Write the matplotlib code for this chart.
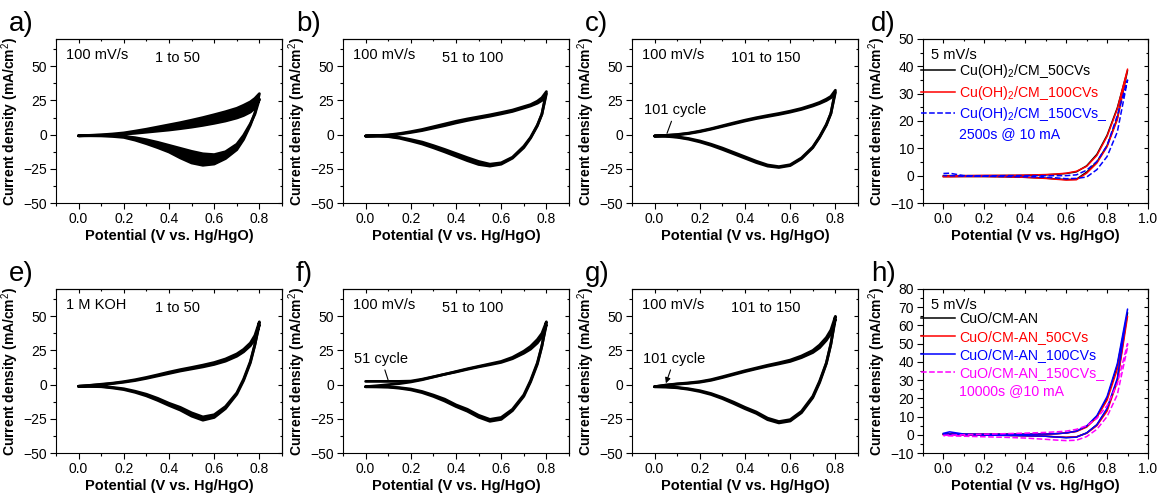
import matplotlib
matplotlib.use("Agg")
import matplotlib.pyplot as plt
from matplotlib.ticker import MultipleLocator

plt.rcParams["font.family"] = ["Liberation Sans", "DejaVu Sans"]
plt.rcParams["mathtext.fontset"] = "custom"
plt.rcParams["mathtext.rm"] = "Liberation Sans"
plt.rcParams["mathtext.bf"] = "Liberation Sans:bold"

# ---- CV data (potential grid shared by all CV panels) ----
E_cv = [0.0, 0.05, 0.1, 0.15, 0.2, 0.25, 0.3, 0.35, 0.4, 0.45, 0.5, 0.55,
        0.6, 0.65, 0.7, 0.73, 0.76, 0.78, 0.8]

# a) 1 to 50
a_anod_first = [-0.8, -0.6, -0.4, -0.1, 0.4, 1.0, 1.8, 2.6, 3.4, 4.4, 5.5, 6.8, 8.3, 10.0, 12.2, 14.0, 16.5, 19.5, 26.0]
a_anod_last = [-0.8, -0.5, -0.1, 0.5, 1.3, 2.6, 4.0, 5.6, 7.2, 8.8, 10.6, 12.5, 14.6, 16.8, 19.3, 21.5, 24.0, 26.5, 30.0]
a_cath_first = [-0.8, -0.7, -0.6, -0.8, -1.2, -2.2, -3.7, -5.6, -7.8, -10.0, -12.2, -14.0, -14.6, -12.5, -7.0, -0.5, 8.0, 15.0, 26.0]
a_cath_last = [-0.8, -0.8, -0.9, -1.3, -2.0, -4.0, -6.6, -9.5, -12.7, -17.0, -20.7, -22.4, -21.5, -17.5, -11.0, -3.5, 7.0, 16.0, 30.0]

# b) 51 to 100
b_anod_first = [-1.0, -0.8, -0.4, 0.4, 1.6, 3.0, 4.8, 6.6, 8.6, 10.4, 12.0, 13.5, 15.2, 17.0, 19.5, 21.0, 23.0, 25.0, 30.0]
b_anod_last = [-1.0, -0.7, -0.2, 0.8, 2.2, 3.8, 5.8, 7.8, 9.8, 11.5, 13.0, 14.5, 16.2, 18.0, 20.5, 22.0, 24.5, 27.0, 31.5]
b_cath_first = [-1.0, -1.0, -1.2, -2.0, -3.6, -5.4, -8.0, -10.8, -13.8, -16.8, -19.6, -21.6, -20.6, -16.5, -8.5, -2.0, 7.0, 15.0, 30.0]
b_cath_last = [-1.0, -1.0, -1.4, -2.6, -4.6, -6.8, -9.6, -12.6, -15.8, -19.0, -21.8, -23.0, -21.6, -17.2, -9.5, -2.5, 6.5, 15.0, 31.5]

# c) 101 to 150
c_anod_first = [-1.0, -0.6, -0.1, 0.8, 2.2, 4.0, 6.0, 8.0, 10.0, 11.8, 13.3, 14.8, 16.5, 18.5, 21.0, 22.8, 25.0, 27.0, 31.0]
c_anod_last = [-1.0, -0.5, 0.1, 1.1, 2.6, 4.4, 6.5, 8.6, 10.6, 12.4, 14.0, 15.5, 17.2, 19.2, 21.8, 23.6, 26.0, 28.0, 32.5]
c_cath_first = [-1.0, -1.1, -1.6, -2.8, -4.6, -7.0, -9.8, -13.0, -16.2, -19.4, -22.2, -23.4, -22.0, -17.0, -9.0, -1.5, 7.5, 15.5, 31.0]
c_cath_last = [-1.0, -1.2, -1.9, -3.3, -5.3, -7.8, -10.8, -14.0, -17.2, -20.4, -23.0, -24.0, -22.6, -17.6, -9.5, -2.0, 7.0, 15.5, 32.5]

# e) 1 to 50, 1 M KOH
e_anod_first = [-1.2, -0.6, 0.0, 0.8, 1.8, 3.0, 4.6, 6.4, 8.2, 10.0, 11.5, 13.0, 14.8, 17.2, 20.8, 24.0, 28.5, 33.5, 44.0]
e_anod_last = [-1.2, -0.5, 0.3, 1.1, 2.2, 3.6, 5.3, 7.2, 9.2, 11.0, 12.6, 14.3, 16.2, 18.8, 22.5, 25.8, 30.5, 36.0, 46.0]
e_cath_first = [-1.2, -1.2, -1.2, -2.0, -3.0, -4.8, -7.0, -10.0, -13.6, -16.6, -20.6, -23.6, -22.0, -16.0, -6.0, 4.0, 17.0, 29.5, 44.0]
e_cath_last = [-1.2, -1.3, -1.5, -2.4, -3.6, -5.6, -8.2, -11.5, -15.2, -18.6, -23.0, -26.0, -24.0, -17.5, -7.0, 3.0, 16.0, 29.0, 46.0]

# f) 51 to 100 (first cycle starts at +2.4 mA/cm2)
f_anod_first = [2.4, 2.4, 2.4, 2.4, 2.6, 4.0, 5.8, 7.6, 9.3, 11.2, 13.0, 14.6, 16.3, 19.0, 23.0, 26.0, 30.5, 35.0, 44.0]
f_anod_last = [-1.5, -0.8, 0.0, 0.8, 2.0, 3.6, 5.6, 7.6, 9.6, 11.6, 13.4, 15.2, 17.0, 20.0, 24.5, 28.0, 33.0, 37.5, 46.0]
f_cath_first = [-1.5, -1.5, -1.6, -2.2, -3.2, -5.0, -7.6, -10.6, -14.8, -18.0, -22.4, -25.4, -24.0, -18.0, -7.5, 3.0, 16.0, 28.5, 44.0]
f_cath_last = [-1.5, -1.6, -1.8, -2.6, -3.8, -5.8, -8.6, -12.0, -16.0, -19.4, -23.8, -26.8, -25.4, -19.0, -8.5, 2.0, 15.0, 28.0, 46.0]

# g) 101 to 150
g_anod_first = [-1.5, -0.4, 0.4, 1.0, 1.8, 3.2, 5.2, 7.4, 9.6, 11.6, 13.5, 15.2, 17.0, 19.8, 23.5, 27.0, 32.5, 37.5, 48.0]
g_anod_last = [-1.5, -0.3, 0.6, 1.3, 2.2, 3.7, 5.8, 8.0, 10.2, 12.2, 14.2, 16.0, 18.0, 21.0, 25.0, 29.0, 34.5, 40.0, 50.0]
g_cath_first = [-1.5, -1.6, -2.0, -3.0, -4.4, -6.5, -9.4, -12.8, -16.6, -20.0, -24.5, -27.0, -25.6, -19.5, -8.5, 2.5, 16.0, 30.0, 48.0]
g_cath_last = [-1.5, -1.7, -2.3, -3.4, -5.0, -7.2, -10.2, -13.8, -17.6, -21.0, -25.6, -28.0, -26.6, -20.5, -9.5, 1.5, 15.5, 29.5, 50.0]

# ---- LSV data ----
E_lsv = [0.0, 0.03, 0.1, 0.2, 0.3, 0.4, 0.5, 0.55, 0.6, 0.65, 0.7, 0.75, 0.8, 0.85, 0.9]

d_labels = ["Cu(OH)$_2$/CM_50CVs", "Cu(OH)$_2$/CM_100CVs", "Cu(OH)$_2$/CM_150CVs_"]
d_extra = "2500s @ 10 mA"
d_fwd = [
    [0.0, 0.0, 0.0, 0.0, 0.05, 0.1, 0.3, 0.5, 0.8, 1.4, 3.6, 7.8, 14.8, 24.8, 38.5],
    [-0.2, -0.1, 0.0, 0.1, 0.1, 0.2, 0.4, 0.6, 0.9, 1.6, 3.4, 7.4, 14.4, 24.4, 39.0],
    [0.8, 0.9, 0.0, -0.1, 0.0, 0.0, 0.0, 0.0, 0.0, 0.3, 2.0, 5.2, 11.0, 22.0, 35.0],
]
d_back = [
    [-0.3, -0.3, -0.3, -0.3, -0.4, -0.6, -0.9, -1.2, -1.4, -1.3, 1.3, 5.0, 11.0, 21.0, 38.5],
    [-0.4, -0.4, -0.3, -0.3, -0.4, -0.6, -1.0, -1.3, -1.6, -1.5, 0.9, 4.6, 10.6, 20.5, 39.0],
    [0.0, 0.0, -0.2, -0.2, -0.3, -0.4, -0.6, -0.8, -1.1, -1.0, -0.5, 2.2, 7.0, 16.0, 35.0],
]
d_colors = ["black", "#ff0000", "#0000ff"]
d_styles = ["-", "-", "--"]

h_labels = ["CuO/CM-AN", "CuO/CM-AN_50CVs", "CuO/CM-AN_100CVs", "CuO/CM-AN_150CVs_"]
h_extra = "10000s @10 mA"
h_fwd = [
    [0.5, 0.6, 0.3, 0.3, 0.3, 0.3, 0.4, 0.6, 1.0, 2.0, 4.5, 10.0, 20.0, 38.0, 67.0],
    [0.2, 0.4, 0.3, 0.3, 0.3, 0.3, 0.4, 0.6, 1.0, 1.8, 4.2, 9.5, 19.0, 36.0, 65.0],
    [0.8, 1.6, 0.4, 0.3, 0.3, 0.3, 0.4, 0.6, 1.0, 2.0, 4.8, 10.5, 21.0, 39.0, 69.0],
    [-0.3, -0.2, 0.0, 0.3, 0.6, 0.9, 1.3, 1.6, 2.0, 3.0, 5.0, 9.0, 16.0, 28.0, 50.0],
]
h_back = [
    [0.3, 0.2, 0.0, -0.2, -0.3, -0.5, -0.8, -1.2, -1.5, -1.2, 1.0, 5.5, 14.0, 30.0, 67.0],
    [0.0, 0.0, -0.1, -0.2, -0.3, -0.5, -0.8, -1.1, -1.4, -1.1, 0.8, 5.0, 13.0, 29.0, 65.0],
    [0.3, 0.4, 0.0, -0.2, -0.3, -0.5, -0.8, -1.2, -1.6, -1.3, 1.0, 5.5, 14.5, 31.0, 69.0],
    [-0.5, -0.6, -0.8, -1.1, -1.4, -1.8, -2.5, -2.9, -3.2, -3.0, -1.0, 3.0, 10.0, 22.0, 48.0],
]
h_colors = ["black", "#ff0000", "#0000ff", "#ff00ff"]
h_styles = ["-", "-", "-", "--"]

fig = plt.figure(figsize=(11.59, 4.94), dpi=100)
W, H = 1159, 494


def make_axes(left, top, w=226, h=164):
    return fig.add_axes([left / W, (H - top - h) / H, w / W, h / H])


def style(ax, xlim, ylim, xstep, ystep, xminor, yminor):
    ax.set_xlim(*xlim)
    ax.set_ylim(*ylim)
    ax.xaxis.set_major_locator(MultipleLocator(xstep))
    ax.yaxis.set_major_locator(MultipleLocator(ystep))
    ax.xaxis.set_minor_locator(MultipleLocator(xminor))
    ax.yaxis.set_minor_locator(MultipleLocator(yminor))
    ax.tick_params(which="both", direction="out", labelsize=10, width=0.8, pad=2.5)
    ax.tick_params(which="major", length=4)
    ax.tick_params(which="minor", length=2)
    for sp in ax.spines.values():
        sp.set_linewidth(0.8)
    # inward ticks on top and right, no labels
    sx = ax.secondary_xaxis("top")
    sy = ax.secondary_yaxis("right")
    sx.xaxis.set_major_locator(MultipleLocator(xstep))
    sx.xaxis.set_minor_locator(MultipleLocator(xminor))
    sy.yaxis.set_major_locator(MultipleLocator(ystep))
    sy.yaxis.set_minor_locator(MultipleLocator(yminor))
    for s in (sx, sy):
        s.tick_params(which="both", direction="in", labeltop=False, labelright=False, width=0.8)
        s.tick_params(which="major", length=3)
        s.tick_params(which="minor", length=1.5)
    ax.set_xlabel("Potential (V vs. Hg/HgO)", fontsize=10.5, fontweight="bold", labelpad=2)
    ax.set_ylabel("Current density (mA/cm$^2$)", fontsize=10, fontweight="bold")
    ax.yaxis.set_label_coords(-0.155, 0.5)


def draw_cv(ax, af, al, cf, cl, fill_from=0.0):
    mask = [e >= fill_from for e in E_cv]
    ax.fill_between(E_cv, af, al, where=mask, color="black", lw=0)
    ax.fill_between(E_cv, cf, cl, color="black", lw=0)
    for an, ca in ((af, cf), (al, cl)):
        ax.plot(E_cv + E_cv[::-1], an + ca[::-1], color="black", lw=2.0,
                solid_joinstyle="round", solid_capstyle="round")


lefts = [56, 343, 632, 923]
tops = [39, 289]

cv_panels = [
    ("a)", 0, 0, a_anod_first, a_anod_last, a_cath_first, a_cath_last, "100 mV/s", "1 to 50"),
    ("b)", 1, 0, b_anod_first, b_anod_last, b_cath_first, b_cath_last, "100 mV/s", "51 to 100"),
    ("c)", 2, 0, c_anod_first, c_anod_last, c_cath_first, c_cath_last, "100 mV/s", "101 to 150"),
    ("e)", 0, 1, e_anod_first, e_anod_last, e_cath_first, e_cath_last, "1 M KOH", "1 to 50"),
    ("f)", 1, 1, f_anod_first, f_anod_last, f_cath_first, f_cath_last, "100 mV/s", "51 to 100"),
    ("g)", 2, 1, g_anod_first, g_anod_last, g_cath_first, g_cath_last, "100 mV/s", "101 to 150"),
]

for letter, col, row, af, al, cf, cl, t1, t2 in cv_panels:
    ax = make_axes(lefts[col], tops[row])
    draw_cv(ax, af, al, cf, cl, fill_from=0.2 if letter == "f)" else 0.0)
    style(ax, (-0.1, 0.9), (-50, 70), 0.2, 25, 0.1, 12.5)
    ax.text(0.045, 0.88, t1, transform=ax.transAxes, fontsize=10.5)
    ax.text(0.44, 0.86, t2, transform=ax.transAxes, fontsize=10.5)
    fig.text((lefts[col] - 47) / W, 1 - (tops[row] - 15) / H, letter, fontsize=20, va="center")
    if letter == "c)":
        ax.annotate("101 cycle", xy=(0.055, 1.0), xytext=(-0.045, 15),
                    fontsize=10.5, arrowprops=dict(arrowstyle="-", lw=0.8, color="black",
                                                   shrinkA=1, shrinkB=0))
    if letter == "f)":
        ax.annotate("51 cycle", xy=(0.1, 3.2), xytext=(-0.05, 16),
                    fontsize=10.5, arrowprops=dict(arrowstyle="-", lw=0.8, color="black",
                                                   shrinkA=1, shrinkB=0))
    if letter == "g)":
        ax.annotate("101 cycle", xy=(0.05, 1.0), xytext=(-0.05, 16),
                    fontsize=10.5, arrowprops=dict(arrowstyle="-|>", lw=0.8, color="black",
                                                   mutation_scale=8, shrinkA=1, shrinkB=0))

# d) and h) LSV
for letter, row, labels, extra, fwd, back, colors, styles, ylim, spacing in (
        ("d)", 0, d_labels, d_extra, d_fwd, d_back, d_colors, d_styles, (-10, 50), 0.25),
        ("h)", 1, h_labels, h_extra, h_fwd, h_back, h_colors, h_styles, (-10, 80), 0.28)):
    ax = make_axes(lefts[3], tops[row], w=225)
    for lab, fw, bk, c, ls in zip(labels, fwd, back, colors, styles):
        ax.plot(E_lsv + E_lsv[::-1], fw + bk[::-1], color=c, ls=ls, lw=1.1, label=lab)
    ax.plot([], [], ls="none", color=colors[-1], label=extra)
    style(ax, (-0.1, 1.0), ylim, 0.2, 10, 0.1, 5)
    ax.text(0.035, 0.88, "5 mV/s", transform=ax.transAxes, fontsize=10.5)
    ax.legend(loc="upper left", bbox_to_anchor=(-0.01, 0.86), frameon=False, fontsize=10.2,
              handlelength=2.4, handletextpad=0.3, labelspacing=spacing,
              borderpad=0, borderaxespad=0, labelcolor="linecolor")
    fig.text((lefts[3] - 52) / W, 1 - (tops[row] - 15) / H, letter, fontsize=20, va="center")

fig.savefig("out.png", dpi=100)
